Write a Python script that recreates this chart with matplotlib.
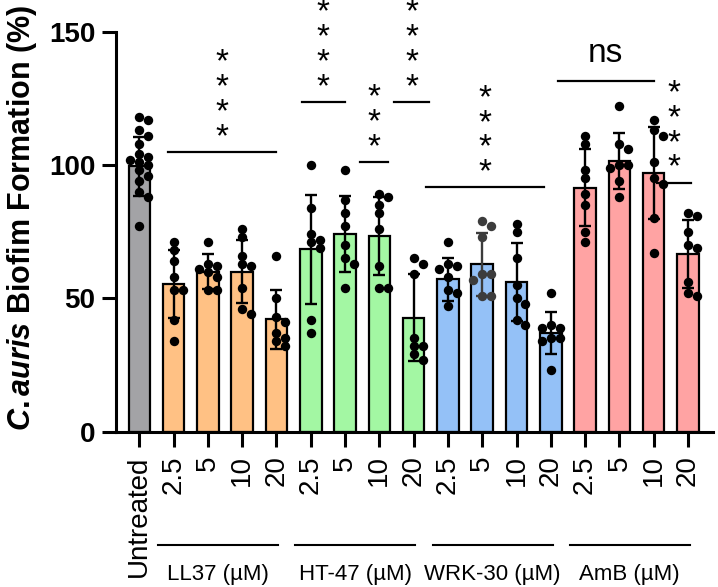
import numpy as np
import matplotlib
matplotlib.use('Agg')
from matplotlib import pyplot as plt

plt.rcParams['font.family'] = ['Liberation Sans', 'DejaVu Sans']
plt.rcParams['mathtext.fontset'] = 'custom'
plt.rcParams['mathtext.it'] = 'Liberation Sans:italic:bold'
plt.rcParams['mathtext.rm'] = 'Liberation Sans:bold'
plt.rcParams['mathtext.bf'] = 'Liberation Sans:bold'

# tick labels and groups
tick_labels = ['Untreated'] + ['2.5', '5', '10', '20'] * 4
groups = ['LL37 (µM)', 'HT-47 (µM)', 'WRK-30 (µM)', 'AmB (µM)']

# bar heights (mean) and SD
means = [99.5, 55.3, 60.0, 60.0, 42.1, 68.4, 74.1, 73.5, 42.8,
         57.1, 62.8, 56.2, 37.1, 91.5, 101.6, 96.9, 66.6]
sds = [11.0, 12.8, 6.5, 11.8, 11.1, 20.4, 14.2, 14.7, 16.3,
       8.2, 11.8, 14.5, 7.8, 14.4, 10.4, 17.2, 12.8]

# individual replicates
untreated = [118, 117, 113, 111, 108, 104, 103, 102, 101, 100, 98, 96, 94, 90, 88, 77]
ll37_25 = [71, 68, 64, 58, 53, 53, 42, 34]
ll37_5 = [71, 63, 62, 61, 60, 58, 53, 53]
ll37_10 = [76, 73, 66, 63, 62, 54, 46, 44]
ll37_20 = [66, 50, 43, 41, 37, 35, 34, 32]
ht47_25 = [100, 84, 74, 72, 71, 69, 42, 37]
ht47_5 = [98, 87, 82, 77, 70, 65, 63, 54]
ht47_10 = [89, 88, 85, 82, 76, 62, 54, 54]
ht47_20 = [65, 63, 59, 35, 32, 32, 29, 27]
wrk30_25 = [71, 63, 62, 61, 58, 53, 52, 47]
wrk30_5 = [79, 77, 73, 59, 59, 57, 51, 51]
wrk30_10 = [78, 75, 65, 55, 50, 48, 42, 40]
wrk30_20 = [52, 40, 39, 39, 35, 35, 34, 23]
amb_25 = [111, 108, 98, 95, 89, 85, 75, 71]
amb_5 = [122, 108, 106, 100, 100, 99, 94, 88]
amb_10 = [117, 113, 111, 101, 95, 93, 80, 67]
amb_20 = [82, 81, 75, 70, 69, 56, 52, 51]
points = [untreated, ll37_25, ll37_5, ll37_10, ll37_20,
          ht47_25, ht47_5, ht47_10, ht47_20,
          wrk30_25, wrk30_5, wrk30_10, wrk30_20,
          amb_25, amb_5, amb_10, amb_20]

# significance brackets
sig_x0 = [0.85, 4.74, 6.43, 7.43, 8.36, 12.2, 15.1]
sig_x1 = [4.0, 6.0, 7.26, 8.46, 11.8, 15.0, 16.1]
sig_y = [104.9, 123.7, 101.2, 123.7, 91.6, 131.5, 93.4]
sig_txt = ['****', '****', '***', '****', '****', 'ns', '****']

colors = ['#a3a3a6'] + ['#ffc184'] * 4 + ['#a3f7a3'] * 4 + ['#94c1f7'] * 4 + ['#ffa3a3'] * 4
dot_colors = ['black'] * 10 + ['#3c3c3c'] + ['black'] * 6

x = np.arange(len(means))
px_x = 34.3   # pixels per x unit
px_y = 2.667  # pixels per y unit


def swarm(vals, xc):
    placed = []
    out = []
    for v in vals:
        for k in [0, 1, -1, 2, -2, 3, -3]:
            dx = k * 0.26
            ok = all(((dx - a) * px_x) ** 2 + ((v - b) * px_y) ** 2 >= 7.5 ** 2
                     for a, b in placed)
            if ok:
                break
        placed.append((dx, v))
        out.append(xc + dx)
    return out


fig = plt.figure(figsize=(7.18, 5.87), dpi=100)
ax = fig.add_axes([116 / 718, 1 - 431.7 / 587, (713 - 116) / 718, 400 / 587])

ax.bar(x, means, width=0.63, color=colors, edgecolor='black', linewidth=1.6, zorder=2)
for i in range(len(x)):
    ax.errorbar(x[i], means[i], yerr=sds[i], fmt='none', ecolor=dot_colors[i],
                elinewidth=1.7, capsize=4, capthick=1.7, zorder=3)
    xs = swarm(points[i], x[i])
    ax.scatter(xs, points[i], s=46, color=dot_colors[i], zorder=4, linewidths=0)

# significance lines and labels
for x0, x1, y, t in zip(sig_x0, sig_x1, sig_y, sig_txt):
    ax.plot([x0, x1], [y, y], color='black', lw=1.6, clip_on=False)
    xc = (x0 + x1) / 2
    if t == 'ns':
        ax.annotate(t, xy=(xc, y), xytext=(0, 19), textcoords='offset pixels',
                    ha='center', va='baseline', fontsize=24, annotation_clip=False)
    else:
        ax.annotate('\n'.join(t), xy=(xc, y), xytext=(0, -1),
                    textcoords='offset pixels', ha='center', va='bottom',
                    fontsize=24, linespacing=0.74, annotation_clip=False)

ax.set_xlim(-0.68, 16.73)
ax.set_ylim(0, 150)
ax.set_yticks([0, 50, 100, 150])
ax.set_xticks(x)
ax.set_xticklabels(tick_labels, rotation=90, fontsize=20)
for lab in ax.get_yticklabels():
    lab.set_fontweight('bold')
    lab.set_fontsize(20)
ax.tick_params(axis='y', length=10, width=2.2, pad=5)
ax.tick_params(axis='x', length=11, width=2.2, pad=6)
ax.spines['top'].set_visible(False)
ax.spines['right'].set_visible(False)
ax.spines['left'].set_linewidth(2.2)
ax.spines['bottom'].set_linewidth(2.2)

# group lines under the tick labels
tr = ax.get_xaxis_transform()
for g, name in enumerate(groups):
    first = 1 + 4 * g
    x0, x1 = first - 0.45, first + 3 + 0.05
    ax.plot([x0, x1], [-0.283, -0.283], color='black', lw=1.5, transform=tr, clip_on=False)
    ax.text((x0 + x1) / 2, -0.358, name, transform=tr, ha='center', va='center', fontsize=16)

fig.text(22 / 718, 1 - 218 / 587, r'$\mathit{C.auris}$ Biofim Formation (%)',
         rotation=90, ha='center', va='center', fontsize=22, fontweight='bold')

fig.savefig('out.png', dpi=100)
